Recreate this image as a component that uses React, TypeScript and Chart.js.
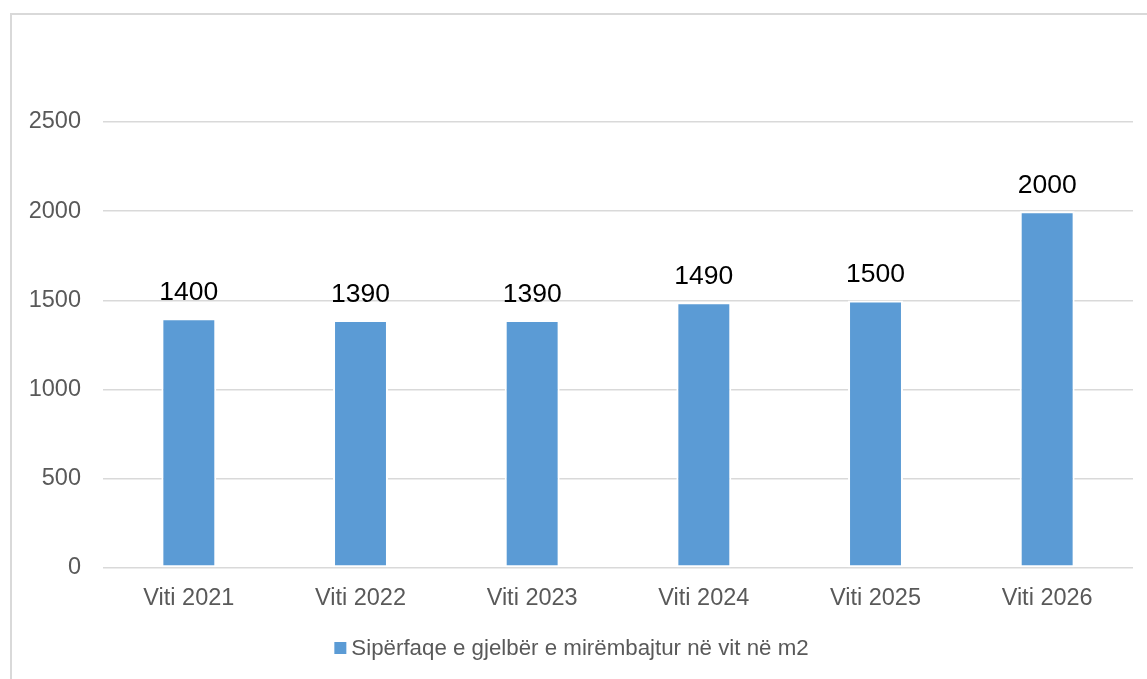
import React, { useEffect, useRef } from "react";
import { Chart, registerables } from "chart.js";

Chart.register(...registerables);

const categories: string[] = ["Viti 2021", "Viti 2022", "Viti 2023", "Viti 2024", "Viti 2025", "Viti 2026"];
const values: number[] = [1400, 1390, 1390, 1490, 1500, 2000];
const seriesLabel = "Sipërfaqe e gjelbër e mirëmbajtur në vit në m2";
const yTicks: number[] = [0, 500, 1000, 1500, 2000, 2500];

const FONT = "'Liberation Sans', Arial, sans-serif";
const BAR_COLOR = "#5b9bd5";

const dataLabelPlugin = {
  id: "dataLabels",
  afterDatasetsDraw(chart: any) {
    const ctx = chart.ctx;
    const meta = chart.getDatasetMeta(0);
    ctx.save();
    ctx.font = `26.5px ${FONT}`;
    ctx.fillStyle = "#000000";
    ctx.textAlign = "center";
    ctx.textBaseline = "alphabetic";
    meta.data.forEach((bar: any, i: number) => {
      ctx.fillText(String(chart.data.datasets[0].data[i]), bar.x, bar.y - 18);
    });
    ctx.restore();
  },
};

const legendPlugin = {
  id: "customLegend",
  afterDraw(chart: any) {
    const ctx = chart.ctx;
    ctx.save();
    ctx.font = `22.3px ${FONT}`;
    const text = chart.data.datasets[0].label;
    const tw = ctx.measureText(text).width;
    const box = 12;
    const gap = 5;
    const total = box + gap + tw;
    const cx = 571.5;
    const cy = 648;
    const x0 = cx - total / 2;
    ctx.fillStyle = BAR_COLOR;
    ctx.fillRect(x0, cy - box / 2, box, box);
    ctx.fillStyle = "#595959";
    ctx.textAlign = "left";
    ctx.textBaseline = "middle";
    ctx.fillText(text, x0 + box + gap, cy + 1);
    ctx.restore();
  },
};

export default function App() {
  const canvasRef = useRef<HTMLCanvasElement | null>(null);

  useEffect(() => {
    if (!canvasRef.current) return;
    const chart = new Chart(canvasRef.current, {
      type: "bar",
      data: {
        labels: categories,
        datasets: [
          {
            label: seriesLabel,
            data: values,
            backgroundColor: BAR_COLOR,
            borderColor: "#ffffff",
            borderWidth: 2,
            borderSkipped: false,
            barPercentage: 0.32,
            categoryPercentage: 1,
          },
        ],
      },
      options: {
        animation: false,
        responsive: true,
        maintainAspectRatio: false,
        layout: { padding: { top: 122, right: 14, left: 0, bottom: 0 } },
        plugins: {
          legend: { display: false },
          tooltip: { enabled: false },
          title: { display: false },
        },
        scales: {
          x: {
            grid: { display: false, drawTicks: false },
            border: { display: false },
            ticks: {
              color: "#595959",
              font: { family: FONT, size: 23.5 },
              padding: 16,
              maxRotation: 0,
            },
            afterFit(scale: any) {
              scale.height = 111;
            },
          },
          y: {
            min: 0,
            max: 2500,
            grid: { color: "#d9d9d9", lineWidth: 1.5, drawTicks: false },
            border: { display: false },
            afterBuildTicks(scale: any) {
              scale.ticks = yTicks.map((v) => ({ value: v }));
            },
            ticks: {
              color: "#595959",
              font: { family: FONT, size: 23.5 },
              padding: 22,
              callback: (v: any) => String(v),
            },
            afterFit(scale: any) {
              scale.width = 103;
            },
          },
        },
      },
      plugins: [dataLabelPlugin, legendPlugin],
    });
    return () => chart.destroy();
  }, []);

  return (
    <div style={{ position: "absolute", left: 0, top: 0, width: 1147, height: 679, background: "#ffffff", overflow: "hidden" }}>
      <div
        style={{
          position: "absolute",
          left: 10,
          top: 13,
          width: 1200,
          height: 700,
          borderLeft: "2px solid #d9d9d9",
          borderTop: "2px solid #d9d9d9",
        }}
      />
      <div style={{ position: "absolute", left: 0, top: 0, width: 1147, height: 679 }}>
        <canvas ref={canvasRef} />
      </div>
    </div>
  );
}
